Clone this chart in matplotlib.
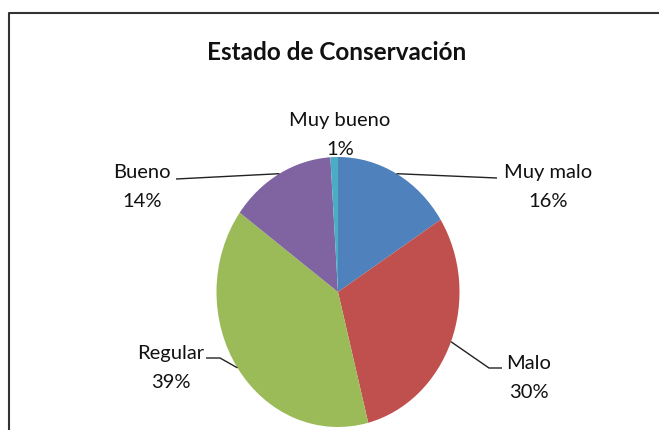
import numpy as np
import matplotlib
matplotlib.use("Agg")
import matplotlib.pyplot as plt
from matplotlib.lines import Line2D

plt.rcParams['font.family'] = ['Lato', 'DejaVu Sans']

# data: slices go clockwise from 12 o'clock
categories = ['Muy malo', 'Malo', 'Regular', 'Bueno', 'Muy bueno']
percent = [16, 30, 39, 14, 1]
colors = ['#4F81BD', '#C0504D', '#9BBB59', '#8064A2', '#4BACC6']

# layout, in pixels of the 659x430 image (y downwards)
W, H = 659, 430
cx, cy, rx, ry = 338, 292, 121.5, 135
label_pos = {
    'Muy malo': (548, 187),
    'Malo': (529, 378),
    'Regular': (171, 368),
    'Bueno': (142, 187),
    'Muy bueno': (340, 135),
}
# where each leader line ends (None = no line), plus optional elbow
leader_end = {
    'Muy malo': (497, 178),
    'Malo': (502, 368),
    'Regular': (206, 358),
    'Bueno': (176, 179),
    'Muy bueno': None,
}
leader_elbow = {
    'Malo': (489, 368),
    'Regular': (220, 358),
}


def px(x, y):
    return (x - cx) / rx, (cy - y) / ry


fig = plt.figure(figsize=(W / 100, H / 100), dpi=100)
ax = fig.add_axes([0, 0, 1, 1])
ax.pie(percent, colors=colors, startangle=90, counterclock=False,
       radius=1, wedgeprops=dict(linewidth=0))
ax.set_aspect('auto')
ax.set_xlim(px(0, 0)[0], px(W, 0)[0])
ax.set_ylim(px(0, H)[1], px(0, 0)[1])
ax.axis('off')

# leader lines from the middle of each wedge
start = 0.0
total = float(sum(percent))
for name, p in zip(categories, percent):
    mid = start + p / total * 360 / 2
    start += p / total * 360
    end = leader_end[name]
    if end is None:
        continue
    theta = np.deg2rad(90 - mid)
    xs = [np.cos(theta)]
    ys = [np.sin(theta)]
    if name in leader_elbow:
        ex, ey = px(*leader_elbow[name])
        xs.append(ex)
        ys.append(ey)
    ex, ey = px(*end)
    xs.append(ex)
    ys.append(ey)
    ax.plot(xs, ys, color='#222222', lw=1.0, solid_capstyle='butt')

for name, p in zip(categories, percent):
    x, y = px(*label_pos[name])
    ax.text(x, y, f'{name}\n{p}%', ha='center', va='center',
            fontsize=14.5, color='#111111', linespacing=1.8)

fig.text(337 / W, 1 - 52 / H, 'Estado de Conservación', ha='center',
         va='center', fontsize=17.5, fontweight='bold', color='#111111')

# chart border (left and top edges visible)
fig.add_artist(Line2D([9 / W, 9 / W, 1], [0, 1 - 13 / H, 1 - 13 / H],
                      transform=fig.transFigure, color='#333333', lw=1.5))

fig.savefig('out.png', dpi=100)
